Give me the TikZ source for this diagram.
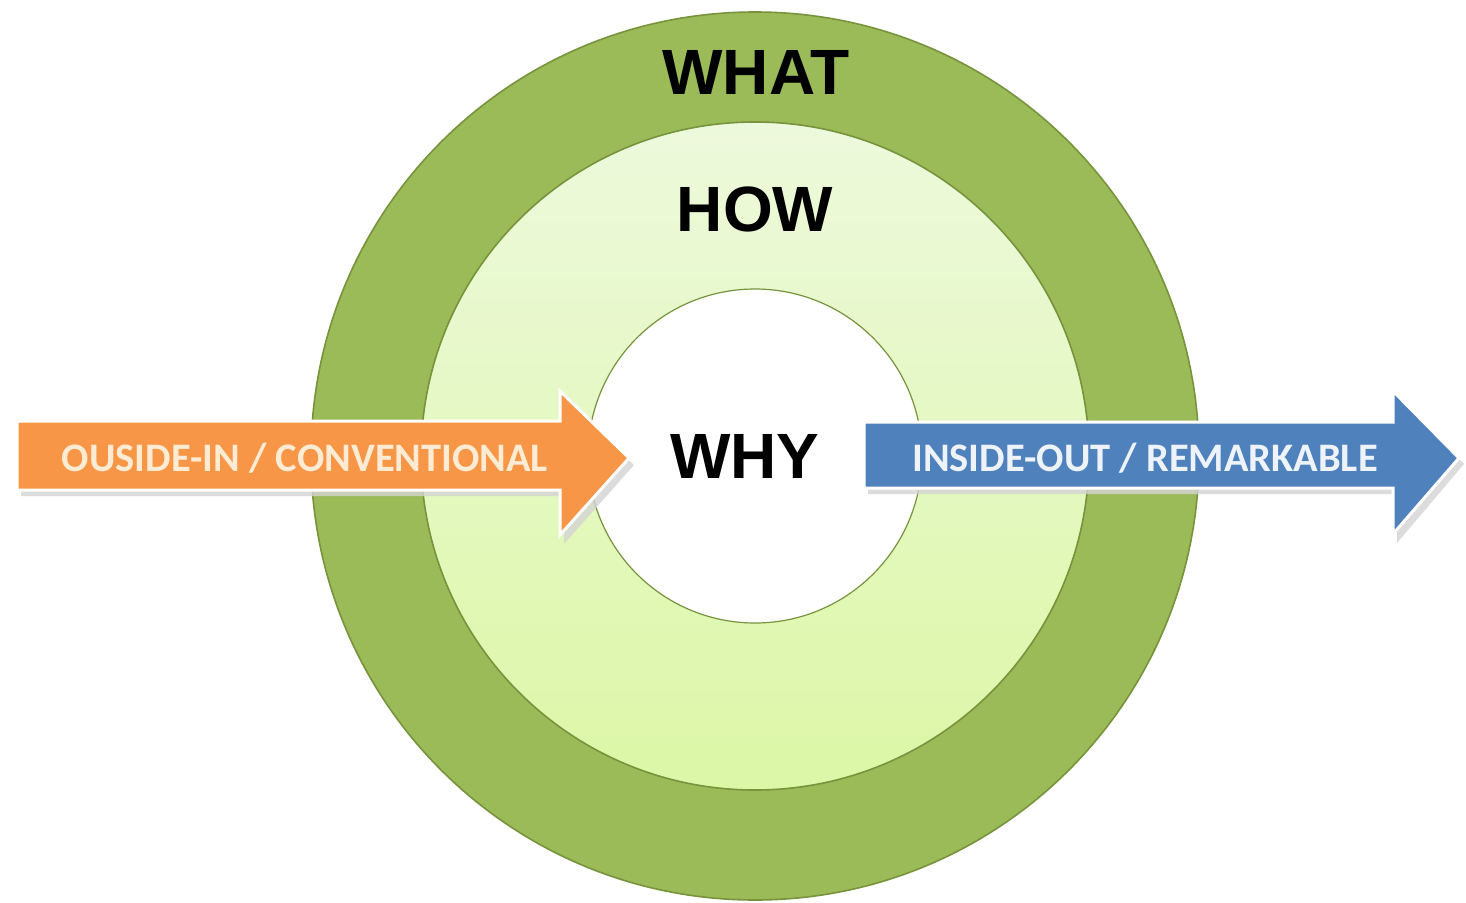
\documentclass[tikz,border=0pt]{standalone}
\usepackage{fontspec}
\setmainfont{Liberation Sans}
\newfontfamily\arrowfont{Carlito}
\definecolor{outergreen}{HTML}{9BBB59}
\definecolor{edgegreen}{HTML}{77933C}
\definecolor{midtop}{HTML}{EDF9DC}
\definecolor{midbot}{HTML}{DCF7A6}
\definecolor{orangearrow}{HTML}{F79646}
\definecolor{bluearrow}{HTML}{4F81BD}
\definecolor{orangetext}{HTML}{FDEBD3}
\definecolor{bluetext}{HTML}{EEF3FA}
\definecolor{shadowgray}{HTML}{D4D4D4}
\tikzset{
  ring/.style={draw=edgegreen, line width=1.6pt},
  bigword/.style={font=\fontsize{64}{70}\selectfont\bfseries, text=black, inner sep=0pt},
  arrowword/.style={font=\arrowfont\fontsize{40.5}{46}\selectfont\bfseries, inner sep=0pt},
  arrowshape/.style={draw=white, line width=3pt, line join=miter},
  arrowshadow/.style={fill=shadowgray, draw=none, opacity=0.8}
}
\begin{document}
\begin{tikzpicture}[x=1pt, y=-1pt]
\useasboundingbox[fill=white] (0,0) rectangle (1466,902);
% circles
\coordinate (c) at (755,456);
\fill[outergreen] (c) circle (444);
\draw[ring] (c) circle (444);
\shade[top color=midtop, bottom color=midbot] (c) circle (334);
\draw[ring] (c) circle (334);
\fill[white] (c) circle (167);
\draw[ring, line width=1.2pt] (c) circle (167);
% labels in circles
\node[bigword] (what) at (756,72) {WHAT};
\node[bigword] (how) at (755,209) {HOW};
\node[bigword] (why) at (745,456) {WHY};
% orange arrow
\fill[arrowshadow] (21,426) -- (564,426) -- (564,396) -- (634,465) -- (564,544) -- (564,496) -- (21,496) -- cycle;
\filldraw[arrowshape, fill=orangearrow] (17,421) -- (560,421) -- (560,391) -- (629,458) -- (560,535) -- (560,490) -- (17,490) -- cycle;
\node[arrowword, text=orangetext] (outin) at (305,458) {OUSIDE-IN / CONVENTIONAL};
% blue arrow
\fill[arrowshadow] (868,427) -- (1397,427) -- (1397,396) -- (1464,464) -- (1397,543) -- (1397,494) -- (868,494) -- cycle;
\filldraw[arrowshape, fill=bluearrow] (864,422) -- (1393,422) -- (1393,391) -- (1459,458) -- (1393,534) -- (1393,488) -- (864,488) -- cycle;
\node[arrowword, text=bluetext] (inout) at (1145,458) {INSIDE-OUT / REMARKABLE};
\end{tikzpicture}
\end{document}
